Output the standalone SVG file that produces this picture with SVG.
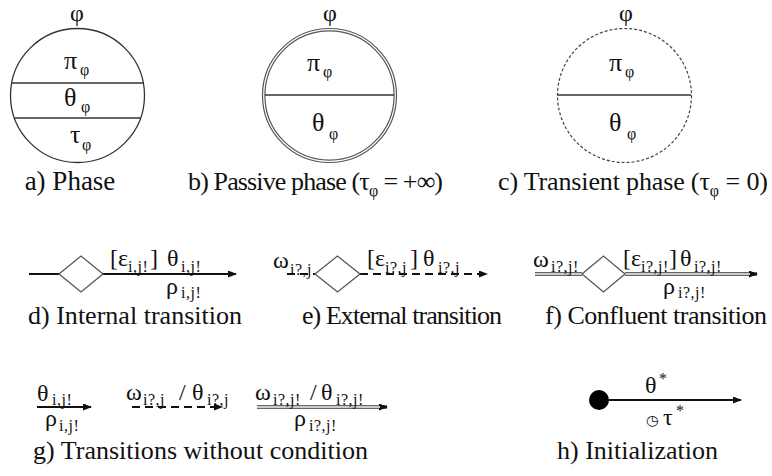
<svg xmlns="http://www.w3.org/2000/svg" width="772" height="476" viewBox="0 0 772 476">
<style>
text{font-family:"Liberation Serif","Times New Roman",serif;fill:#111}
.cap{font-size:26px}
.g{font-size:26px}
.t{font-size:24px}
.s{font-size:16px;letter-spacing:0.5px}
.ln{fill:none;stroke:#333;stroke-width:1.3}
.dia{fill:#fff;stroke:#555;stroke-width:1.3}
.solid{stroke:#111;stroke-width:2;fill:none}
.dash{stroke:#111;stroke-width:2;stroke-dasharray:8 5;fill:none}
.dbl{stroke:#333;stroke-width:3.4;fill:none}
.dbli{stroke:#fff;stroke-width:1.4;fill:none}
</style>
<defs>
<marker id="ah" markerWidth="9" markerHeight="7" refX="8" refY="3.5" orient="auto" markerUnits="userSpaceOnUse"><path d="M0,0 L9,3.5 L0,7 z" fill="#111"/></marker>
</defs>

<g id="phase">
<circle cx="77.5" cy="95.5" r="67" class="ln"/>
<line x1="11.7" y1="83" x2="143.3" y2="83" class="ln"/>
<line x1="14.4" y1="118" x2="140.6" y2="118" class="ln"/>
<text class="t" x="77" y="21" text-anchor="middle">φ</text>
<text class="g" x="64" y="69">π</text><text class="s" x="80" y="75">φ</text>
<text class="g" x="64" y="106">θ</text><text class="s" x="81" y="112">φ</text>
<text class="g" x="70" y="143">τ</text><text class="s" x="82" y="150">φ</text>
<text class="cap" x="70" y="190" text-anchor="middle" style="font-size:27px">a) Phase</text>
</g>

<g id="passive">
<circle cx="329.5" cy="95.5" r="67" fill="none" stroke="#555" stroke-width="1.2"/>
<circle cx="329.5" cy="95.5" r="64.6" fill="none" stroke="#555" stroke-width="1.2"/>
<line x1="265" y1="95" x2="394" y2="95" class="ln"/>
<text class="t" x="330" y="21" text-anchor="middle">φ</text>
<text class="g" x="307" y="71">π</text><text class="s" x="323" y="77">φ</text>
<text class="g" x="312" y="131">θ</text><text class="s" x="329" y="139">φ</text>
<text class="cap" x="188" y="190" textLength="255" lengthAdjust="spacing">b) Passive phase (τ<tspan class="s" dy="6">φ</tspan><tspan dy="-6"> = +∞)</tspan></text>
</g>

<g id="transient">
<circle cx="624.5" cy="95.5" r="67" fill="none" stroke="#444" stroke-width="1.2" stroke-dasharray="3 2"/>
<line x1="558" y1="95" x2="691" y2="95" class="ln"/>
<text class="t" x="626" y="21" text-anchor="middle">φ</text>
<text class="g" x="609" y="71">π</text><text class="s" x="625" y="77">φ</text>
<text class="g" x="609" y="131">θ</text><text class="s" x="627" y="139">φ</text>
<text class="cap" x="498" y="190" textLength="270" lengthAdjust="spacing">c) Transient phase (τ<tspan class="s" dy="6">φ</tspan><tspan dy="-6"> = 0)</tspan></text>
</g>

<g id="connectors">
<line x1="29" y1="274" x2="59" y2="274" class="solid"/>
<line x1="103" y1="274" x2="236" y2="274" class="solid" marker-end="url(#ah)"/>
<line x1="287" y1="274" x2="315" y2="274" class="dash"/>
<line x1="360" y1="274" x2="487" y2="274" class="dash" stroke-dasharray="8 6" marker-end="url(#ah)"/>
<line x1="535" y1="274" x2="582" y2="274" class="dbl"/>
<line x1="535" y1="274" x2="582" y2="274" class="dbli"/>
<line x1="625" y1="274" x2="757" y2="274" class="dbl" marker-end="url(#ah)"/>
<line x1="625" y1="274" x2="750" y2="274" class="dbli"/>
<line x1="37" y1="407" x2="91" y2="407" class="solid" marker-end="url(#ah)"/>
<line x1="132" y1="407" x2="222" y2="407" class="dash" marker-end="url(#ah)"/>
<line x1="257" y1="407" x2="387" y2="407" class="dbl" marker-end="url(#ah)"/>
<line x1="257" y1="407" x2="380" y2="407" class="dbli"/>
<line x1="609" y1="400" x2="741" y2="400" class="solid" marker-end="url(#ah)"/>
</g>

<g id="internal">
<polygon points="59,274 81,256 103,274 81,292" class="dia"/>
<text class="t" x="110" y="266">[ε</text><text class="s" x="128" y="272">i,j!</text><text class="t" x="150" y="266">]</text>
<text class="t" x="167" y="266">θ</text><text class="s" x="181" y="272">i,j!</text>
<text class="t" x="166" y="294">ρ</text><text class="s" x="181" y="298">i,j!</text>
<text class="cap" x="28" y="324" textLength="214" lengthAdjust="spacing">d) Internal transition</text>
</g>

<g id="external">
<polygon points="315,274 337.5,256 360,274 337.5,292" class="dia"/>
<text class="t" x="273" y="268">ω</text><text class="s" x="290" y="275">i?,j</text>
<text class="t" x="367" y="266">[ε</text><text class="s" x="385" y="273">i?,j</text><text class="t" x="410" y="266">]</text>
<text class="t" x="423" y="266">θ</text><text class="s" x="438" y="273">i?,j</text>
<text class="cap" x="302" y="324" textLength="200" lengthAdjust="spacing">e) External transition</text>
</g>

<g id="confluent">
<polygon points="582,274 603.5,256 625,274 603.5,292" class="dia"/>
<text class="t" x="533" y="267">ω</text><text class="s" x="551" y="272">i?,j!</text>
<text class="t" x="623" y="266">[ε</text><text class="s" x="641" y="272">i?,j!</text><text class="t" x="669" y="266">]</text>
<text class="t" x="680" y="266">θ</text><text class="s" x="694" y="272">i?,j!</text>
<text class="t" x="663" y="294">ρ</text><text class="s" x="678" y="298">i?,j!</text>
<text class="cap" x="545" y="324" textLength="222" lengthAdjust="spacing">f) Confluent transition</text>
</g>

<g id="nocond">
<text class="t" x="37" y="401">θ</text><text class="s" x="52" y="405">i,j!</text>
<text class="t" x="45" y="426">ρ</text><text class="s" x="59" y="431">i,j!</text>
<text class="t" x="126" y="400">ω</text><text class="s" x="143" y="405">i?,j</text>
<text class="t" x="179" y="400">/</text>
<text class="t" x="192" y="400">θ</text><text class="s" x="207" y="405">i?,j</text>
<text class="t" x="255" y="400">ω</text><text class="s" x="273" y="405">i?,j!</text>
<text class="t" x="310" y="400">/</text>
<text class="t" x="321" y="400">θ</text><text class="s" x="336" y="405">i?,j!</text>
<text class="t" x="294" y="426">ρ</text><text class="s" x="309" y="431">i?,j!</text>
<text class="cap" x="33" y="459" textLength="335" lengthAdjust="spacing">g) Transitions without condition</text>
</g>

<g id="init">
<circle cx="599" cy="400" r="10" fill="#000"/>
<text class="t" x="645" y="393">θ</text><text class="s" x="659" y="384">*</text>
<text x="646" y="425" style="font-family:'DejaVu Sans',sans-serif;font-size:14px">◷</text>
<text class="t" x="663" y="425">τ</text><text class="s" x="676" y="416">*</text>
<text class="cap" x="557" y="459" textLength="161" lengthAdjust="spacing">h) Initialization</text>
</g>
</svg>
